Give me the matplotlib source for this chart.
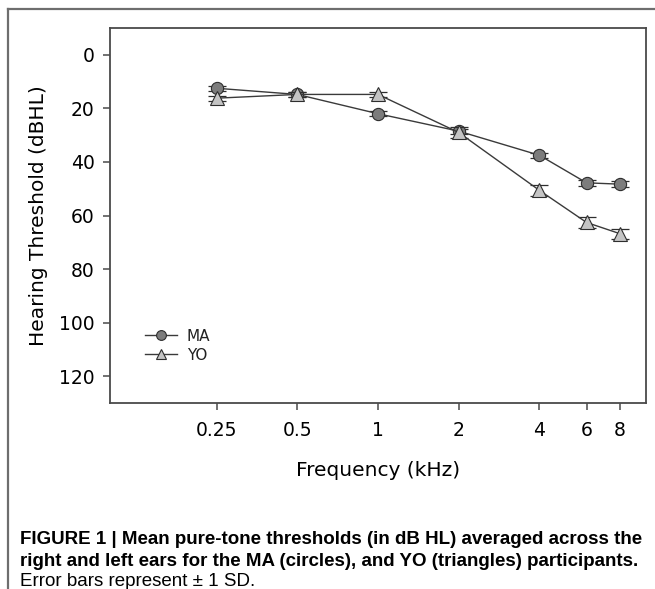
import matplotlib

matplotlib.use("Agg")
import matplotlib.pyplot as plt
from matplotlib.lines import Line2D
from matplotlib.ticker import FixedLocator, NullLocator

# data (dB HL, mean and SD per frequency)
freq_khz = [0.25, 0.5, 1, 2, 4, 6, 8]
freq_labels = ["0.25", "0.5", "1", "2", "4", "6", "8"]
ma_mean = [12.5, 14.8, 22.0, 28.5, 37.5, 47.8, 48.3]
ma_sd = [0.9, 0.8, 0.9, 0.9, 1.0, 1.0, 1.0]
yo_mean = [16.2, 14.8, 14.8, 29.0, 50.6, 62.6, 66.8]
yo_sd = [1.0, 1.0, 1.0, 2.2, 2.0, 2.0, 1.9]
y_ticks = [0, 20, 40, 60, 80, 100, 120]

caption_lines = [
    "FIGURE 1 | Mean pure-tone thresholds (in dB HL) averaged across the",
    "right and left ears for the MA (circles), and YO (triangles) participants.",
    "Error bars represent \u00b1 1 SD.",
]

LINE = "#3a3a3a"
EDGE = "#2e2e2e"
MA_FACE = "#7c7c7c"
YO_FACE = "#c4c4c4"
SPINE = "#4a4a4a"
FRAME = "#6e6e6e"

fig = plt.figure(figsize=(6.55, 5.89), dpi=100)
fig.patch.set_facecolor("white")

# outer figure frame (top and left edges only)
fx = 8 / 655
fy = 1 - 9 / 589
fig.add_artist(Line2D([fx, 1.0], [fy, fy], transform=fig.transFigure, color=FRAME, lw=1.6))
fig.add_artist(Line2D([fx, fx], [0.0, fy], transform=fig.transFigure, color=FRAME, lw=1.6))

ax = fig.add_axes([110 / 655, 1 - 403 / 589, 536 / 655, 375 / 589])

ax.errorbar(freq_khz, ma_mean, yerr=ma_sd, fmt="none", ecolor=EDGE, elinewidth=0.9,
            capsize=6.5, capthick=0.9, zorder=2)
ax.plot(freq_khz, ma_mean, color=LINE, lw=1.0, marker="o", ms=8.8, mfc=MA_FACE,
        mec=EDGE, mew=0.8, label="MA", zorder=3)
ax.errorbar(freq_khz, yo_mean, yerr=yo_sd, fmt="none", ecolor=EDGE, elinewidth=0.9,
            capsize=6.5, capthick=0.9, zorder=4)
ax.plot(freq_khz, yo_mean, color=LINE, lw=1.0, marker="^", ms=9.5, mfc=YO_FACE,
        mec=EDGE, mew=0.8, label="YO", zorder=5)

ax.set_xscale("log", base=2)
ax.set_xlim(0.1, 10)
ax.set_ylim(130, -10)
ax.xaxis.set_major_locator(FixedLocator(freq_khz))
ax.xaxis.set_minor_locator(NullLocator())
ax.set_xticklabels(freq_labels)
ax.set_yticks(y_ticks)

for s in ax.spines.values():
    s.set_color(SPINE)
    s.set_linewidth(1.3)
ax.tick_params(axis="both", direction="out", length=5, width=1.1, color=SPINE,
               labelsize=13.5, labelcolor="black", top=False, right=False)
ax.tick_params(axis="x", pad=8)
ax.tick_params(axis="y", pad=6)

ax.set_xlabel("Frequency (kHz)", fontsize=14.5, labelpad=15)
ax.set_ylabel("Hearing Threshold (dBHL)", fontsize=14.5, labelpad=8)

leg = ax.legend(loc="upper left", bbox_to_anchor=(0.066, 0.198), frameon=False,
                fontsize=11, markerscale=0.8, handlelength=2.1, handletextpad=0.6,
                labelspacing=0.25, borderpad=0, borderaxespad=0)
for t in leg.get_texts():
    t.set_color("#222222")

# caption, sized so the widest line spans the figure width like the original
cap_y = [539, 562, 582]
texts = []
for i, (line, yy) in enumerate(zip(caption_lines, cap_y)):
    texts.append(fig.text(20 / 655, 1 - yy / 589, line, family="Liberation Sans",
                          fontsize=15, fontweight="bold" if i < 2 else "normal",
                          va="center", ha="left"))
renderer = fig.canvas.get_renderer()
w = max(t.get_window_extent(renderer).width for t in texts[:2])
size = 15 * 625 / w
for t in texts:
    t.set_fontsize(size)

fig.savefig("out.png", dpi=100, facecolor="white")
